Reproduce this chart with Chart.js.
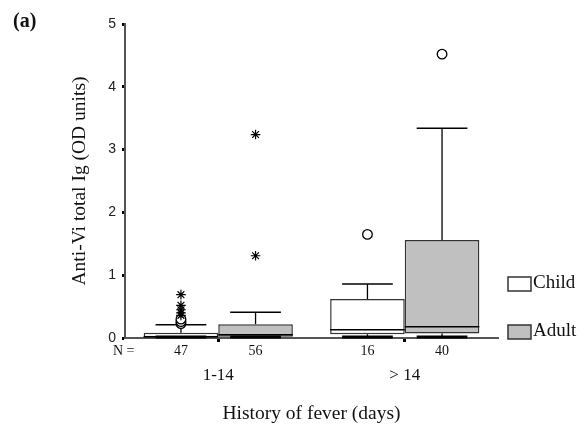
<!DOCTYPE html>
<html>
<head>
<meta charset="utf-8">
<script src="https://cdn.jsdelivr.net/npm/chart.js@4.4.0/dist/chart.umd.min.js"></script>
<style>
  html, body { margin: 0; padding: 0; background: #fff; }
  #wrap { position: relative; width: 587px; height: 430px; }
</style>
</head>
<body>
<div id="wrap"><canvas id="c" width="587" height="430"></canvas></div>
<script>
// ---- data ----
const groups   = ["1-14", "> 14"];
const childN   = [47, 16];
const adultN   = [56, 40];

const childMin = [0, 0];
const childQ1  = [0.01, 0.06];
const childMed = [0.02, 0.13];
const childQ3  = [0.085, 0.62];
const childMax = [0.21, 0.86];

const adultMin = [0, 0];
const adultQ1  = [0.02, 0.07];
const adultMed = [0.05, 0.18];
const adultQ3  = [0.22, 1.56];
const adultMax = [0.41, 3.34];

// outliers (circles) and extremes (stars), per group
const childCircles = [[0.23, 0.26, 0.30], [1.65]];
const childStars   = [[0.36, 0.40, 0.45, 0.52, 0.69], []];
const adultCircles = [[], [4.52]];
const adultStars   = [[1.31, 3.24], []];

const yTicks = [0, 1, 2, 3, 4, 5];

const SERIF = "'Liberation Serif', 'Times New Roman', serif";
const SANS  = "'Liberation Sans', Arial, sans-serif";

const boxes = [
  { min: childMin, q1: childQ1, med: childMed, q3: childQ3, max: childMax, circ: childCircles, star: childStars },
  { min: adultMin, q1: adultQ1, med: adultMed, q3: adultQ3, max: adultMax, circ: adultCircles, star: adultStars }
];

function mark(ctx, style, x, y){
  const opts = style === "circle"
    ? { pointStyle: "circle", radius: 4.8, borderWidth: 1.3, rotation: 0 }
    : { pointStyle: "star", radius: 4.8, borderWidth: 1.2, rotation: 0 };
  ctx.fillStyle = "#fff";
  ctx.strokeStyle = "#000";
  ctx.lineWidth = opts.borderWidth;
  Chart.helpers.drawPoint(ctx, opts, x, y);
}

// ---- whiskers, medians, outliers, N row, legend ----
const boxExtras = {
  id: "boxExtras",
  afterDatasetDraw(chart, args){
    const b = boxes[args.index];
    if (!b) return;
    const ctx = chart.ctx, y = chart.scales.y;
    const meta = chart.getDatasetMeta(args.index);
    ctx.save();
    meta.data.forEach((bar, i) => {
      const x = bar.x, w = bar.width, cw = w * 0.34;
      const line = (x1, y1, x2, y2, lw) => {
        ctx.strokeStyle = "#000";
        ctx.lineWidth = lw;
        ctx.beginPath(); ctx.moveTo(x1, y1); ctx.lineTo(x2, y2); ctx.stroke();
      };
      line(x - w/2, y.getPixelForValue(b.med[i]), x + w/2, y.getPixelForValue(b.med[i]), 1.5);
      line(x, y.getPixelForValue(b.q3[i]), x, y.getPixelForValue(b.max[i]), 1.3);
      line(x - cw, y.getPixelForValue(b.max[i]), x + cw, y.getPixelForValue(b.max[i]), 1.5);
      line(x, y.getPixelForValue(b.q1[i]), x, y.getPixelForValue(b.min[i]), 1.3);
      line(x - cw, y.getPixelForValue(b.min[i]) - 1, x + cw, y.getPixelForValue(b.min[i]) - 1, 3);
      b.circ[i].forEach(v => mark(ctx, "circle", x, y.getPixelForValue(v)));
      b.star[i].forEach(v => mark(ctx, "star", x, y.getPixelForValue(v)));
    });
    ctx.restore();
  },
  afterDraw(chart){
    const ctx = chart.ctx;
    ctx.save();
    ctx.fillStyle = "#111";
    // N row
    ctx.font = "14px " + SERIF;
    ctx.textBaseline = "middle";
    ctx.textAlign = "left";
    ctx.fillText("N =", 113, 351);
    ctx.textAlign = "center";
    [childN, adultN].forEach((ns, d) => {
      chart.getDatasetMeta(d).data.forEach((bar, i) => ctx.fillText(String(ns[i]), bar.x, 351));
    });
    // panel label
    ctx.textAlign = "left";
    ctx.textBaseline = "alphabetic";
    ctx.font = "bold 20px " + SERIF;
    ctx.fillText("(a)", 13, 27);
    // legend
    const items = [["Child", "#ffffff", 277], ["Adult", "#c0c0c0", 325]];
    items.forEach(([lab, fill, top]) => {
      ctx.fillStyle = fill;
      ctx.fillRect(508, top, 23, 14);
      ctx.strokeStyle = "#333";
      ctx.lineWidth = 1.5;
      ctx.strokeRect(508, top, 23, 14);
      ctx.fillStyle = "#111";
      ctx.font = "19px " + SERIF;
      ctx.fillText(lab, 533, top + 11);
    });
    ctx.restore();
  }
};

new Chart(document.getElementById("c"), {
  type: "bar",
  data: {
    labels: groups,
    datasets: [
      { label: "Child", data: groups.map((g, i) => [childQ1[i], childQ3[i]]),
        backgroundColor: "#ffffff", borderColor: "#333", borderWidth: 1.5, borderSkipped: false },
      { label: "Adult", data: groups.map((g, i) => [adultQ1[i], adultQ3[i]]),
        backgroundColor: "#c0c0c0", borderColor: "#333", borderWidth: 1.5, borderSkipped: false }
    ]
  },
  options: {
    responsive: false,
    animation: false,
    layout: { padding: { left: 68, right: 89, top: 24, bottom: 0 } },
    plugins: { legend: { display: false }, tooltip: { enabled: false } },
    datasets: { bar: { categoryPercentage: 0.8, barPercentage: 1.0 } },
    scales: {
      x: {
        grid: { display: true, drawOnChartArea: false, offset: false, tickLength: 4, tickWidth: 3, tickColor: "#000" },
        border: { color: "#555", width: 2 },
        ticks: { font: { family: SERIF, size: 17 }, color: "#111", padding: 23 },
        title: { display: true, text: "History of fever (days)", font: { family: SERIF, size: 19.5 }, color: "#111", padding: { top: 0, bottom: 4 } },
        afterFit(s){ s.height = 92; }
      },
      y: {
        min: 0, max: 5,
        afterBuildTicks(s){ s.ticks = yTicks.map(v => ({ value: v })); },
        grid: { display: true, drawOnChartArea: false, tickLength: 3, tickWidth: 3, tickColor: "#000" },
        border: { color: "#555", width: 2 },
        ticks: { font: { family: SANS, size: 14 }, color: "#222", padding: 6 },
        title: { display: true, text: "Anti-Vi total Ig (OD units)", font: { family: SERIF, size: 19.5 }, color: "#111", padding: { top: 0, bottom: 0 } },
        afterFit(s){ s.width = 125 - 68; }
      }
    }
  },
  plugins: [boxExtras]
});
</script>
</body>
</html>
